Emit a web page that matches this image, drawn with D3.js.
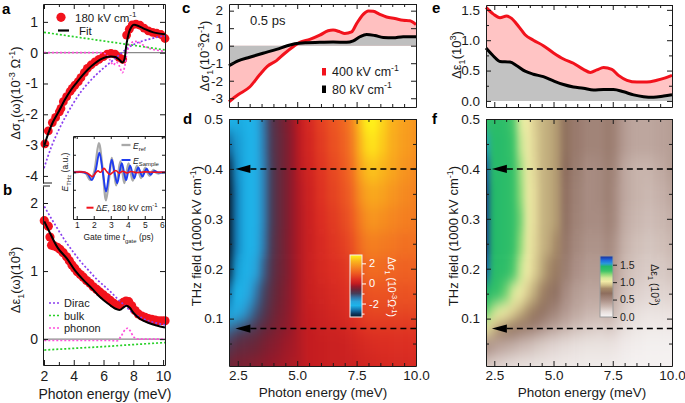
<!DOCTYPE html>
<html><head><meta charset="utf-8">
<script src="https://cdn.jsdelivr.net/npm/d3@7/dist/d3.min.js"></script>
<style>html,body{margin:0;padding:0;background:#fff;}svg{display:block;}</style>
</head><body>
<svg id="fig" width="685" height="403"></svg>
<script>
// ================= DATA =================
const panelA_dots = [[2.06,-2.96],[2.29,-2.54],[2.56,-2.27],[2.78,-2.10],[3.03,-1.92],[3.14,-1.81],[3.30,-1.59],[3.52,-1.43],[3.75,-1.26],[3.90,-1.16],[4.08,-1.05],[4.30,-0.94],[4.48,-0.81],[4.71,-0.65],[4.91,-0.51],[5.16,-0.40],[5.43,-0.30],[5.69,-0.22],[5.99,-0.13],[6.25,-0.05],[6.50,-0.02],[6.77,-0.05],[7.04,-0.15],[7.29,-0.22],[7.55,0.57],[7.73,0.76],[7.93,0.90],[8.18,0.93],[8.45,0.89],[8.72,0.80],[9.01,0.71],[9.30,0.66],[9.57,0.63],[9.86,0.59],[10.13,0.46]];
const panelA_fit = [[2.0,-3.05],[2.3,-2.6],[2.6,-2.25],[3.0,-1.9],[3.4,-1.53],[3.8,-1.22],[4.2,-0.97],[4.6,-0.73],[5.0,-0.52],[5.4,-0.35],[5.8,-0.22],[6.2,-0.14],[6.5,-0.12],[6.8,-0.14],[7.08,-0.24],[7.29,-0.32],[7.4,-0.22],[7.55,0.3],[7.77,0.74],[8.0,0.9],[8.2,0.89],[8.67,0.79],[9.35,0.66],[10.13,0.6]];
const panelA_dirac = [[2.0,-3.75],[2.5,-3.05],[3.0,-2.5],[3.5,-2.03],[4.0,-1.62],[4.5,-1.26],[5.0,-0.97],[5.5,-0.72],[6.0,-0.5],[6.5,-0.3],[7.0,-0.1],[7.5,0.1],[8.0,0.26],[8.5,0.36],[9.0,0.43],[9.5,0.49],[10.13,0.55]];
const panelA_bulk = [[2.0,0.66],[4.0,0.52],[6.0,0.38],[8.0,0.24],[10.13,0.09]];
const panelA_phonon = [[2.0,0],[5.8,0],[6.2,-0.06],[6.45,-0.25],[6.66,-0.4],[6.85,-0.3],[7.05,-0.42],[7.27,-0.65],[7.42,-0.45],[7.58,0.0],[7.8,0.28],[8.1,0.37],[8.4,0.33],[8.8,0.2],[9.2,0.12],[9.6,0.08],[10.13,0.04]];

const panelB_dots = [[2.02,1.74],[2.29,1.66],[2.40,1.50],[2.51,1.38],[2.69,1.37],[2.89,1.35],[3.07,1.32],[3.29,1.27],[3.52,1.21],[3.70,1.15],[3.88,1.09],[4.06,1.04],[4.24,0.99],[4.44,0.95],[4.64,0.91],[4.86,0.86],[5.09,0.82],[5.31,0.77],[5.54,0.73],[5.76,0.69],[5.99,0.65],[6.21,0.61],[6.44,0.57],[6.66,0.53],[6.88,0.50],[7.11,0.50],[7.33,0.54],[7.51,0.56],[7.69,0.55],[7.89,0.49],[8.12,0.42],[8.34,0.37],[8.57,0.34],[8.79,0.32],[9.01,0.30],[9.24,0.29],[9.46,0.28],[9.69,0.27],[9.91,0.27],[10.13,0.27]];
const panelB_fit = [[2.02,1.73],[2.4,1.56],[2.96,1.33],[3.52,1.19],[4.08,1.01],[4.64,0.87],[5.2,0.75],[5.76,0.62],[6.32,0.52],[6.77,0.45],[7.1,0.43],[7.3,0.46],[7.55,0.49],[7.77,0.46],[8.0,0.39],[8.44,0.3],[9.0,0.24],[9.57,0.2],[10.13,0.17]];
const panelB_dirac = [[2.02,1.95],[2.5,1.77],[3.0,1.59],[3.5,1.42],[4.0,1.27],[4.5,1.13],[5.0,1.01],[5.5,0.89],[6.0,0.79],[6.5,0.69],[7.0,0.58],[7.5,0.48],[8.0,0.38],[8.5,0.32],[9.0,0.27],[9.5,0.24],[10.13,0.21]];
const panelB_bulk = [[2.02,-0.16],[4.0,-0.135],[6.0,-0.11],[8.0,-0.08],[10.13,-0.05]];
const panelB_phonon = [[2.02,-0.02],[6.5,-0.02],[6.9,-0.025],[7.2,0.05],[7.45,0.14],[7.6,0.16],[7.8,0.12],[8.0,0.04],[8.3,0.0],[10.13,0.0]];

const inset_ref = [[0.78,0],[1.3,0.02],[1.55,-0.08],[1.78,-0.45],[2.02,0.0],[2.3,1.66],[2.52,0.2],[2.72,-1.6],[2.92,-0.2],[3.06,0.82],[3.2,0.0],[3.32,-0.75],[3.45,0],[3.57,0.62],[3.69,0],[3.8,-0.62],[3.93,0],[4.05,0.5],[4.17,0],[4.29,-0.48],[4.42,0],[4.54,0.36],[4.66,0],[4.78,-0.33],[4.91,0],[5.03,0.26],[5.15,0],[5.28,-0.2],[5.4,0],[5.52,0.13],[5.64,0],[5.78,-0.07],[6.0,0],[6.19,0]];
const inset_sample = [[0.78,0],[1.4,0],[1.65,-0.1],[1.88,-0.45],[2.1,0.05],[2.33,1.12],[2.52,0.1],[2.72,-1.1],[2.9,-0.1],[3.06,0.72],[3.22,0],[3.38,-0.63],[3.52,0],[3.65,0.52],[3.78,0],[3.9,-0.45],[4.02,0],[4.14,0.38],[4.26,0],[4.38,-0.34],[4.5,0],[4.62,0.28],[4.74,0],[4.87,-0.25],[4.99,0],[5.11,0.2],[5.23,0],[5.35,-0.14],[5.47,0],[5.6,0.08],[5.75,0],[6.19,0]];
const inset_diff = [[0.78,0],[1.5,0],[1.7,-0.1],[1.92,-0.25],[2.1,-0.05],[2.25,0.08],[2.4,0.0],[2.6,0.22],[2.78,0.02],[2.95,-0.12],[3.15,0.02],[3.3,0.1],[3.5,-0.05],[3.7,0.06],[3.95,-0.04],[4.2,0.04],[4.5,-0.02],[5.0,0.02],[5.5,0],[6.19,0]];

const panelC_400 = [[2.13,-3.2],[2.51,-2.8],[3.0,-2.36],[3.42,-1.66],[3.73,-1.19],[4.13,-0.85],[4.48,-0.43],[4.83,-0.06],[5.11,0.19],[5.53,0.36],[5.95,0.6],[6.3,0.85],[6.51,0.89],[6.8,0.79],[7.0,0.7],[7.29,0.79],[7.5,1.26],[7.78,1.79],[7.99,1.98],[8.2,1.96],[8.48,1.79],[8.76,1.64],[9.11,1.55],[9.46,1.45],[9.74,1.42],[10.0,1.2]];
const panelC_80 = [[2.13,-1.15],[2.51,-0.87],[3.0,-0.66],[3.56,-0.43],[4.13,-0.21],[4.55,-0.02],[4.9,0.11],[5.39,0.17],[5.95,0.19],[6.51,0.21],[7.08,0.19],[7.36,0.28],[7.64,0.51],[7.92,0.64],[8.27,0.58],[8.62,0.47],[9.04,0.45],[9.46,0.51],[10.0,0.51]];
const panelE_400 = [[2.15,1.54],[2.46,1.43],[2.74,1.37],[3.02,1.40],[3.23,1.36],[3.52,1.23],[3.8,1.09],[4.15,1.0],[4.57,0.91],[5.0,0.79],[5.42,0.69],[5.84,0.62],[6.26,0.52],[6.55,0.47],[6.83,0.51],[7.11,0.55],[7.46,0.52],[7.74,0.42],[8.1,0.34],[8.52,0.31],[8.94,0.31],[9.36,0.34],[9.72,0.38],[10.0,0.42]];
const panelE_80 = [[2.15,0.87],[2.46,0.74],[2.74,0.65],[3.16,0.64],[3.45,0.58],[3.8,0.49],[4.15,0.44],[4.57,0.40],[5.0,0.33],[5.42,0.27],[5.84,0.23],[6.26,0.21],[6.69,0.18],[7.11,0.19],[7.53,0.19],[7.96,0.15],[8.38,0.10],[8.8,0.07],[9.22,0.06],[9.65,0.08],[10.0,0.10]];

// heat maps: rows follow mapField (bottom to top), columns follow mapEnergy
const mapEnergy = [2.13,2.4,2.7,3.0,3.3,3.6,3.9,4.2,4.5,4.8,5.1,5.5,6.0,6.5,7.0,7.3,7.6,7.9,8.2,8.6,9.0,9.5,10.0];
const mapField = [0.005,0.05,0.08,0.1,0.12,0.15,0.2,0.25,0.3,0.35,0.4,0.45,0.5];
const mapSigma = [
 [-0.6,-0.5,-0.5,-0.45,-0.4,-0.35,-0.3,-0.25,-0.2,-0.15,-0.1,0.0,0.05,0.1,0.1,0.12,0.18,0.22,0.25,0.28,0.3,0.3,0.3],
 [-0.9,-0.75,-0.7,-0.65,-0.6,-0.5,-0.42,-0.35,-0.25,-0.2,-0.1,0.0,0.05,0.1,0.12,0.18,0.25,0.3,0.35,0.38,0.4,0.4,0.4],
 [-1.3,-1.1,-1.0,-0.9,-0.8,-0.65,-0.55,-0.45,-0.35,-0.25,-0.1,0.0,0.1,0.15,0.2,0.28,0.38,0.45,0.5,0.5,0.5,0.5,0.5],
 [-2.0,-1.8,-1.6,-1.3,-1.05,-0.85,-0.65,-0.5,-0.4,-0.25,-0.1,0.0,0.1,0.2,0.28,0.38,0.5,0.6,0.65,0.65,0.65,0.65,0.65],
 [-2.4,-2.0,-1.85,-1.55,-1.2,-0.95,-0.7,-0.55,-0.42,-0.27,-0.1,0.05,0.15,0.25,0.33,0.43,0.6,0.72,0.78,0.78,0.78,0.78,0.78],
 [-2.7,-2.2,-2.1,-1.8,-1.4,-1.05,-0.78,-0.6,-0.45,-0.28,-0.1,0.08,0.2,0.3,0.4,0.5,0.72,0.88,0.92,0.92,0.9,0.9,0.9],
 [-3.2,-2.4,-2.25,-2.1,-1.75,-1.25,-0.88,-0.65,-0.5,-0.3,-0.1,0.1,0.28,0.4,0.5,0.65,0.95,1.2,1.25,1.2,1.15,1.1,1.1],
 [-3.34,-2.6,-2.3,-2.2,-1.95,-1.45,-0.95,-0.7,-0.5,-0.3,-0.1,0.1,0.32,0.5,0.65,0.85,1.2,1.45,1.5,1.45,1.4,1.3,1.3],
 [-3.34,-2.6,-2.3,-2.2,-2.0,-1.5,-1.0,-0.72,-0.52,-0.3,-0.1,0.12,0.38,0.58,0.78,1.0,1.4,1.7,1.8,1.7,1.6,1.5,1.45],
 [-3.34,-2.6,-2.3,-2.2,-2.0,-1.5,-1.0,-0.72,-0.52,-0.3,-0.08,0.15,0.45,0.68,0.9,1.15,1.65,1.95,2.05,1.95,1.8,1.65,1.55],
 [-3.2,-2.5,-2.3,-2.2,-2.0,-1.5,-1.0,-0.72,-0.52,-0.3,-0.05,0.2,0.5,0.75,1.0,1.3,1.9,2.25,2.35,2.2,2.0,1.8,1.65],
 [-2.7,-2.4,-2.3,-2.2,-2.0,-1.45,-0.95,-0.72,-0.52,-0.3,-0.03,0.25,0.58,0.85,1.1,1.45,2.1,2.55,2.65,2.4,2.1,1.9,1.75],
 [-2.2,-2.25,-2.25,-2.2,-2.0,-1.4,-0.92,-0.7,-0.5,-0.28,0.0,0.3,0.65,0.92,1.18,1.55,2.25,2.75,2.8,2.5,2.15,1.95,1.8]
];
const mapEps = [
 [0.25,0.22,0.2,0.18,0.16,0.15,0.14,0.13,0.12,0.11,0.1,0.09,0.08,0.07,0.07,0.07,0.06,0.05,0.04,0.03,0.03,0.03,0.03],
 [0.5,0.45,0.4,0.37,0.34,0.3,0.28,0.25,0.22,0.2,0.18,0.16,0.14,0.12,0.12,0.12,0.11,0.08,0.06,0.05,0.04,0.04,0.04],
 [1.0,0.9,0.8,0.72,0.66,0.6,0.55,0.5,0.45,0.4,0.35,0.3,0.25,0.22,0.2,0.22,0.2,0.15,0.12,0.09,0.07,0.07,0.08],
 [1.18,1.05,1.0,0.95,0.88,0.82,0.75,0.68,0.6,0.52,0.47,0.4,0.33,0.28,0.27,0.3,0.25,0.19,0.15,0.12,0.1,0.1,0.11],
 [1.32,1.2,1.1,1.04,0.98,0.92,0.85,0.78,0.7,0.62,0.55,0.45,0.38,0.33,0.32,0.35,0.3,0.22,0.18,0.15,0.13,0.14,0.15],
 [1.45,1.38,1.33,1.25,1.12,1.04,0.95,0.88,0.8,0.72,0.65,0.5,0.42,0.38,0.38,0.42,0.36,0.28,0.23,0.2,0.18,0.19,0.2],
 [1.68,1.43,1.4,1.38,1.3,1.15,1.03,0.95,0.88,0.82,0.75,0.58,0.48,0.43,0.43,0.48,0.42,0.32,0.27,0.24,0.22,0.23,0.26],
 [1.75,1.45,1.42,1.4,1.35,1.22,1.05,0.97,0.9,0.87,0.82,0.62,0.52,0.47,0.47,0.52,0.46,0.35,0.3,0.27,0.25,0.27,0.3],
 [1.75,1.45,1.42,1.4,1.36,1.25,1.06,0.98,0.9,0.88,0.85,0.65,0.55,0.5,0.5,0.56,0.5,0.38,0.33,0.3,0.28,0.3,0.34],
 [1.75,1.45,1.42,1.4,1.35,1.22,1.05,0.98,0.9,0.88,0.85,0.66,0.56,0.5,0.52,0.58,0.5,0.4,0.35,0.32,0.3,0.33,0.38],
 [1.7,1.42,1.42,1.4,1.35,1.2,1.05,0.97,0.9,0.88,0.85,0.68,0.58,0.5,0.52,0.58,0.52,0.4,0.35,0.32,0.32,0.36,0.42],
 [1.52,1.42,1.42,1.4,1.32,1.15,1.04,0.96,0.9,0.88,0.85,0.7,0.6,0.55,0.55,0.6,0.55,0.45,0.4,0.38,0.38,0.4,0.42],
 [1.35,1.4,1.4,1.38,1.3,1.1,1.02,0.95,0.9,0.88,0.85,0.7,0.6,0.55,0.55,0.6,0.55,0.45,0.4,0.38,0.38,0.4,0.42]
];
const arrowFields = [0.4, 0.08];

const abXTicks = [2,4,6,8,10], abXMinor = [3,5,7,9];
const aYTicks = [-4,-3,-2,-1,0,1], bYTicks = [0,1,2];
const insetXTicks = [1,2,3,4,5,6], insetYTicks = [-2,-1,0,1,2];
const mapXTicks = [2.5,5.0,7.5,10.0];
const mapXMinor = [3,3.5,4,4.5,5.5,6,6.5,7,8,8.5,9,9.5];
const cYTicks = [-3,-2,-1,0,1,2];
const eYTicks = [0,0.5,1.0,1.5], eYMinor = [0.25,0.75,1.25];
const fieldTicks = [0.1,0.2,0.3,0.4,0.5], fieldMinor = [0.05,0.15,0.25,0.35,0.45];
const cbSigmaTicks = [-2,0,2], cbSigmaMinor = [-3,-1,1];
const cbEpsTicks = [0,0.5,1.0,1.5];

// ================= DRAWING =================
const FONT = '"Liberation Sans", Arial, Helvetica, sans-serif';
const INK = '#1a1a1a', RED = '#f2121c';
const svg = d3.select('#fig').attr('font-family', FONT);
svg.append('rect').attr('width',685).attr('height',403).attr('fill','#fff');
const defs = svg.append('defs');

function seg(g,x1,y1,x2,y2,c,w,dash){
  const l=g.append('line').attr('x1',x1).attr('y1',y1).attr('x2',x2).attr('y2',y2)
    .attr('stroke',c||INK).attr('stroke-width',w||1);
  if(dash) l.attr('stroke-dasharray',dash);
  return l;
}
function rich(g,x,y,parts,size,o){
  o=o||{};
  const t=g.append('text').attr('font-size',size).attr('fill',o.fill||INK).attr('text-anchor',o.anchor||'start');
  if(o.rot!==undefined) t.attr('transform',`translate(${x},${y}) rotate(${o.rot})`);
  else t.attr('x',x).attr('y',y);
  let cur=0;
  parts.forEach(p=>{
    if(typeof p==='string') p={t:p};
    let off=0, fs=null;
    if(p.s==='sub'){off=size*0.3; fs=size*0.7;}
    else if(p.s==='sup'){off=-size*0.42; fs=size*0.7;}
    const ts=t.append('tspan').text(p.t);
    if(off!==cur) ts.attr('dy',off-cur);
    if(fs) ts.attr('font-size',fs);
    if(p.i) ts.attr('font-style','italic');
    cur=off;
  });
  return t;
}
function axis(g,gen,tx,ty,fs,col){
  const a=g.append('g').attr('transform',`translate(${tx},${ty})`).call(gen);
  a.attr('font-family',FONT).attr('font-size',fs||13.5);
  a.select('.domain').attr('stroke',col||INK).attr('stroke-width',1);
  a.selectAll('.tick line').attr('stroke',col||INK);
  a.selectAll('.tick text').attr('fill',col||INK);
  return a;
}
function minor(g,gen,tx,ty,col){
  const a=axis(g,gen.tickFormat(''),tx,ty,10,col);
  a.select('.domain').remove();
  return a;
}
const none=()=> '';
const f1=d3.format('.1f');

// ---------- Panels a & b ----------
const xAB = d3.scaleLinear().domain([1.933,10.13]).range([43,165]);
const yA = d3.scaleLinear().domain([-4.23,1.58]).range([183,4]);
const yB = d3.scaleLinear().domain([-0.38,2.25]).range([365,186]);
const gA = svg.append('g'), gB = svg.append('g');

seg(gA,43,yA(0),165,yA(0),'#8a8a8a',1.3);
seg(gB,43,yB(0),165,yB(0),'#8a8a8a',1.3);

function dotted(g,x,y,data,color){
  g.append('path').datum(data).attr('fill','none').attr('stroke',color).attr('stroke-width',1.7)
   .attr('stroke-dasharray','2,2')
   .attr('d',d3.line().x(d=>x(d[0])).y(d=>y(d[1])).curve(d3.curveMonotoneX));
}
const PURPLE='#8a3ff0', GREEN='#28d028', PINK='#ff4fdc';
gA.selectAll('circle.pt').data(panelA_dots).join('circle').attr('class','pt')
  .attr('cx',d=>xAB(d[0])).attr('cy',d=>yA(d[1])).attr('r',4.4).attr('fill',RED);
gB.selectAll('circle.pt').data(panelB_dots).join('circle').attr('class','pt')
  .attr('cx',d=>xAB(d[0])).attr('cy',d=>yB(d[1])).attr('r',4.6).attr('fill',RED);
dotted(gA,xAB,yA,panelA_bulk,GREEN);
dotted(gA,xAB,yA,panelA_dirac,PURPLE);
dotted(gA,xAB,yA,panelA_phonon,PINK);
dotted(gB,xAB,yB,panelB_bulk,GREEN);
dotted(gB,xAB,yB,panelB_dirac,PURPLE);
dotted(gB,xAB,yB,panelB_phonon,PINK);
const fitLine=(y)=>d3.line().x(d=>xAB(d[0])).y(d=>y(d[1])).curve(d3.curveCatmullRom.alpha(0.5));
gA.append('path').datum(panelA_fit).attr('fill','none').attr('stroke','#000').attr('stroke-width',2).attr('d',fitLine(yA));
gB.append('path').datum(panelB_fit).attr('fill','none').attr('stroke','#000').attr('stroke-width',2).attr('d',fitLine(yB));

axis(gA,d3.axisLeft(yA).tickValues(aYTicks).tickSize(-5).tickPadding(5).tickSizeOuter(0).tickFormat(d=>String(d)),43,0,14);
axis(gA,d3.axisRight(yA).tickValues(aYTicks).tickSize(-5).tickSizeOuter(0).tickFormat(none),165,0);
axis(gA,d3.axisTop(xAB).tickValues(abXTicks).tickSize(-5).tickSizeOuter(0).tickFormat(none),0,4);
minor(gA,d3.axisTop(xAB).tickValues(abXMinor).tickSize(-3),0,4);
seg(gA,43,183,52,183);
axis(gB,d3.axisLeft(yB).tickValues(bYTicks).tickSize(-5).tickPadding(5).tickSizeOuter(0).tickFormat(d=>String(d)),43,0,14);
axis(gB,d3.axisRight(yB).tickValues(bYTicks).tickSize(-5).tickSizeOuter(0).tickFormat(none),165,0);
axis(gB,d3.axisBottom(xAB).tickValues(abXTicks).tickSize(-5).tickPadding(6).tickSizeOuter(0).tickFormat(d=>String(d)),0,365,14);
minor(gB,d3.axisBottom(xAB).tickValues(abXMinor).tickSize(-3),0,365);
seg(gB,43,186,50,186);
seg(gB,165,183,165,186);

rich(svg,20,93,['Δσ',{t:'1',s:'sub'},'(ω)(10',{t:'-3',s:'sup'},' Ω',{t:'-1',s:'sup'},')'],13,{rot:-90,anchor:'middle'});
rich(svg,20,280,['Δε',{t:'1',s:'sub'},'(ω)(10',{t:'3',s:'sup'},')'],13,{rot:-90,anchor:'middle'});
rich(svg,105,399,['Photon energy (meV)'],14,{anchor:'middle'});
svg.append('circle').attr('cx',61).attr('cy',17.3).attr('r',4.6).attr('fill',RED);
rich(svg,75,21.5,['180 kV cm',{t:'-1',s:'sup'}],11.5);
seg(svg,58,30.5,69,30.5,'#000',2.2);
rich(svg,79,35,['Fit'],11.5);
[['Dirac',PURPLE,303],['bulk',GREEN,315.5],['phonon',PINK,328]].forEach(([t,c,y])=>{
  seg(svg,49,y,61,y,c,1.7,'2,2');
  rich(svg,64,y+4,[t],11);
});

// ---------- Inset ----------
const xIn = d3.scaleLinear().domain([0.78,6.19]).range([73,165]);
const yIn = d3.scaleLinear().domain([-2.67,2.07]).range([219,136]);
const gIn = svg.append('g');
gIn.append('rect').attr('x',73).attr('y',136).attr('width',92).attr('height',83).attr('fill','#fff');
const inLine=d3.line().x(d=>xIn(d[0])).y(d=>yIn(d[1])).curve(d3.curveCatmullRom.alpha(0.5));
gIn.append('path').datum(inset_ref).attr('fill','none').attr('stroke','#a9a9a9').attr('stroke-width',2.3).attr('d',inLine);
gIn.append('path').datum(inset_sample).attr('fill','none').attr('stroke','#1f3cf0').attr('stroke-width',1.9).attr('d',inLine);
gIn.append('path').datum(inset_diff).attr('fill','none').attr('stroke',RED).attr('stroke-width',1.6).attr('d',inLine);
axis(gIn,d3.axisBottom(xIn).tickValues(insetXTicks).tickSize(-3).tickPadding(3).tickSizeOuter(0).tickFormat(d=>String(d)),0,219,8.5);
axis(gIn,d3.axisTop(xIn).tickValues(insetXTicks).tickSize(-3).tickSizeOuter(0).tickFormat(none),0,136);
axis(gIn,d3.axisLeft(yIn).tickValues(insetYTicks).tickSize(-3).tickSizeOuter(0).tickFormat(none),73,0);
axis(gIn,d3.axisRight(yIn).tickValues(insetYTicks).tickSize(-3).tickSizeOuter(0).tickFormat(none),165,0);
rich(gIn,118.5,240,['Gate time ',{t:'t',i:1},{t:'gate',s:'sub'},' (ps)'],8.5,{anchor:'middle'});
rich(gIn,68,172,[{t:'E',i:1},{t:'THz',s:'sub'},' (a.u.)'],8.5,{rot:-90,anchor:'middle'});
seg(gIn,121.5,145,130.5,145,'#a9a9a9',2.3);
rich(gIn,133,148.5,[{t:'E',i:1},{t:'ref',s:'sub'}],8.5);
seg(gIn,121.5,160,130.5,160,'#1f3cf0',2);
rich(gIn,133,163.5,[{t:'E',i:1},{t:'Sample',s:'sub'}],8.5);
seg(gIn,86.5,207.7,93.5,207.7,RED,2);
rich(gIn,96,211,['Δ',{t:'E',i:1},', 180 kV cm',{t:'-1',s:'sup'}],8.5);

// ---------- Panel c ----------
const xCD = d3.scaleLinear().domain([2.13,10]).range([229,416]);
const yC = d3.scaleLinear().domain([-3.5,2.38]).range([107,4]);
const gC = svg.append('g');
const areaC=(data)=>d3.area().x(d=>xCD(d[0])).y0(yC(0)).y1(d=>yC(d[1])).curve(d3.curveMonotoneX)(data);
gC.append('path').attr('d',areaC(panelC_400)).attr('fill','#ffc0c0');
gC.append('path').attr('d',areaC(panelC_80)).attr('fill','#bfbfbf');
const lineC=d3.line().x(d=>xCD(d[0])).y(d=>yC(d[1])).curve(d3.curveMonotoneX);
gC.append('path').datum(panelC_400).attr('fill','none').attr('stroke',RED).attr('stroke-width',3).attr('d',lineC);
gC.append('path').datum(panelC_80).attr('fill','none').attr('stroke','#000').attr('stroke-width',3).attr('d',lineC);
axis(gC,d3.axisLeft(yC).tickValues(cYTicks).tickSize(-5).tickPadding(6).tickSizeOuter(0).tickFormat(d=>String(d)),229,0);
axis(gC,d3.axisRight(yC).tickValues(cYTicks).tickSize(-5).tickSizeOuter(0).tickFormat(none),416,0);
axis(gC,d3.axisBottom(xCD).tickValues(mapXTicks).tickSize(-5).tickSizeOuter(0).tickFormat(none),0,107);
minor(gC,d3.axisBottom(xCD).tickValues(mapXMinor).tickSize(-3),0,107);
axis(gC,d3.axisTop(xCD).tickValues(mapXTicks).tickSize(-5).tickSizeOuter(0).tickFormat(none),0,4);
minor(gC,d3.axisTop(xCD).tickValues(mapXMinor).tickSize(-3),0,4);
rich(svg,250,25,['0.5 ps'],13);
svg.append('rect').attr('x',322).attr('y',68).attr('width',4).attr('height',7.5).attr('fill',RED);
rich(svg,332,76,['400 kV cm',{t:'-1',s:'sup'}],12.5);
svg.append('rect').attr('x',322).attr('y',85.5).attr('width',4).attr('height',7.5).attr('fill','#000');
rich(svg,332,93.5,['80 kV cm',{t:'-1',s:'sup'}],12.5);
rich(svg,209,56,['Δσ',{t:'1',s:'sub'},'(10',{t:'-3',s:'sup'},'Ω',{t:'-1',s:'sup'},')'],13,{rot:-90,anchor:'middle'});

// ---------- Panel e ----------
const xEF = d3.scaleLinear().domain([2.15,10]).range([486,672]);
const yE = d3.scaleLinear().domain([-0.1,1.58]).range([107,5]);
const gE = svg.append('g');
const areaE=(data)=>d3.area().x(d=>xEF(d[0])).y0(yE(0)).y1(d=>yE(d[1])).curve(d3.curveMonotoneX)(data);
gE.append('path').attr('d',areaE(panelE_400)).attr('fill','#ffc4c4');
gE.append('path').attr('d',areaE(panelE_80)).attr('fill','#c2c2c2');
const lineE=d3.line().x(d=>xEF(d[0])).y(d=>yE(d[1])).curve(d3.curveMonotoneX);
gE.append('path').datum(panelE_400).attr('fill','none').attr('stroke',RED).attr('stroke-width',3).attr('d',lineE);
gE.append('path').datum(panelE_80).attr('fill','none').attr('stroke','#000').attr('stroke-width',3).attr('d',lineE);
axis(gE,d3.axisLeft(yE).tickValues(eYTicks).tickSize(-5).tickPadding(6).tickSizeOuter(0).tickFormat(f1),486,0);
minor(gE,d3.axisLeft(yE).tickValues(eYMinor).tickSize(-3),486,0);
axis(gE,d3.axisRight(yE).tickValues(eYTicks).tickSize(-5).tickSizeOuter(0).tickFormat(none),672,0);
minor(gE,d3.axisRight(yE).tickValues(eYMinor).tickSize(-3),672,0);
axis(gE,d3.axisBottom(xEF).tickValues(mapXTicks).tickSize(-5).tickSizeOuter(0).tickFormat(none),0,107);
minor(gE,d3.axisBottom(xEF).tickValues(mapXMinor).tickSize(-3),0,107);
axis(gE,d3.axisTop(xEF).tickValues(mapXTicks).tickSize(-5).tickSizeOuter(0).tickFormat(none),0,5);
minor(gE,d3.axisTop(xEF).tickValues(mapXMinor).tickSize(-3),0,5);
rich(svg,461,55,['Δε',{t:'1',s:'sub'},'(10',{t:'3',s:'sup'},')'],13,{rot:-90,anchor:'middle'});

// ---------- Heat maps ----------
const sigStops=[[-3.34,'#07182a'],[-3.0,'#0c3a62'],[-2.6,'#1478b2'],[-2.2,'#1db4ea'],[-1.8,'#27a4dc'],[-1.4,'#3474a6'],[-1.0,'#463e5a'],[-0.6,'#6c2436'],[-0.3,'#95192a'],[0,'#c41c20'],[0.4,'#dc2e22'],[1.0,'#ee5a22'],[1.6,'#f58620'],[2.2,'#fab41c'],[2.83,'#fff51a']];
const epsStops=[[0,'#f8f6f6'],[0.15,'#e7dedb'],[0.3,'#cbb8b1'],[0.5,'#a88c82'],[0.68,'#8e6e5e'],[0.82,'#a68a68'],[0.92,'#d2c28a'],[1.02,'#f1eba6'],[1.12,'#d6e89a'],[1.22,'#8ed878'],[1.32,'#3cc468'],[1.45,'#22b86a'],[1.53,'#2a9ad8'],[1.62,'#1f6ee0'],[1.75,'#1a2a98']];
const cmSig=d3.scaleLinear().domain(sigStops.map(d=>d[0])).range(sigStops.map(d=>d[1])).clamp(true);
const cmEps=d3.scaleLinear().domain(epsStops.map(d=>d[0])).range(epsStops.map(d=>d[1])).clamp(true);

function heat(g,id,x,y,E,F,Z,cmap){
  const [X0,X1]=x.range(), [Yb,Yt]=y.range();
  defs.append('clipPath').attr('id','clip'+id).append('rect').attr('x',X0).attr('y',Yt).attr('width',X1-X0).attr('height',Yb-Yt);
  const fl=defs.append('filter').attr('id','blur'+id).attr('filterUnits','userSpaceOnUse')
    .attr('x',X0-50).attr('y',Yt-50).attr('width',X1-X0+100).attr('height',Yb-Yt+100)
    .attr('color-interpolation-filters','sRGB');
  fl.append('feGaussianBlur').attr('stdDeviation','3 7');
  const inner=g.append('g').attr('clip-path',`url(#clip${id})`).append('g').attr('filter',`url(#blur${id})`);
  const xe=E.map(x), ye=F.map(y);
  const xb=i=> i<0? X0-45 : (i>=E.length-1? X1+45 : (xe[i]+xe[i+1])/2);
  const yb=j=> j<0? Yb+45 : (j>=F.length-1? Yt-45 : (ye[j]+ye[j+1])/2);
  const cells=[];
  F.forEach((f,j)=>E.forEach((e,i)=>cells.push({i,j,v:Z[j][i]})));
  inner.selectAll('rect').data(cells).join('rect')
    .attr('x',d=>xb(d.i-1)).attr('width',d=>xb(d.i)-xb(d.i-1)+0.6)
    .attr('y',d=>yb(d.j)).attr('height',d=>yb(d.j-1)-yb(d.j)+0.6)
    .attr('fill',d=>cmap(d.v));
}
function colorbar(g,id,x0,w,scale,stops,border){
  const [yb,yt]=scale.range(); const [lo,hi]=scale.domain();
  const gr=defs.append('linearGradient').attr('id','cb'+id).attr('x1',0).attr('y1',1).attr('x2',0).attr('y2',0);
  stops.forEach(s=>gr.append('stop').attr('offset',(s[0]-lo)/(hi-lo)).attr('stop-color',s[1]));
  g.append('rect').attr('x',x0).attr('y',yt).attr('width',w).attr('height',yb-yt).attr('fill',`url(#cb${id})`).attr('stroke',border).attr('stroke-width',1);
}
function arrows(g,x,y){
  const [X0,X1]=x.range();
  arrowFields.forEach(f=>{
    const yy=y(f), tip=x(2.4), base=x(3.03);
    g.append('path').attr('d',`M${tip},${yy}L${base},${yy-4.2}L${base},${yy+4.2}Z`).attr('fill','#000');
    seg(g,base,yy,X1,yy,'#000',1.5,'6,4');
  });
}

// Panel d
const yDF = d3.scaleLinear().domain([0.005,0.5]).range([366,119]);
const gD = svg.append('g');
heat(gD,'d',xCD,yDF,mapEnergy,mapField,mapSigma,cmSig);
arrows(gD,xCD,yDF);
axis(gD,d3.axisLeft(yDF).tickValues(fieldTicks).tickSize(-5).tickPadding(6).tickSizeOuter(0).tickFormat(f1),229,0);
minor(gD,d3.axisLeft(yDF).tickValues(fieldMinor).tickSize(-3),229,0);
axis(gD,d3.axisRight(yDF).tickValues(fieldTicks).tickSize(-5).tickSizeOuter(0).tickFormat(none),416,0);
minor(gD,d3.axisRight(yDF).tickValues(fieldMinor).tickSize(-3),416,0);
axis(gD,d3.axisBottom(xCD).tickValues(mapXTicks).tickSize(-5).tickPadding(4).tickSizeOuter(0).tickFormat(f1),0,366);
minor(gD,d3.axisBottom(xCD).tickValues(mapXMinor).tickSize(-3),0,366);
axis(gD,d3.axisTop(xCD).tickValues(mapXTicks).tickSize(-5).tickSizeOuter(0).tickFormat(none),0,119);
minor(gD,d3.axisTop(xCD).tickValues(mapXMinor).tickSize(-3),0,119);
const cbS = d3.scaleLinear().domain([-3.34,2.83]).range([317,255]);
colorbar(gD,'d',350,12,cbS,sigStops,'#f2f2f2');
axis(gD,d3.axisRight(cbS).tickValues(cbSigmaTicks).tickSize(4).tickPadding(3).tickSizeOuter(0).tickFormat(d=>String(d)),362,0,11,'#ffffff').select('.domain').remove();
minor(gD,d3.axisRight(cbS).tickValues(cbSigmaMinor).tickSize(2.5),362,0,'#ffffff');
rich(gD,388,287,['Δσ',{t:'1',s:'sub'},' (10',{t:'-3',s:'sup'},'Ω',{t:'-1',s:'sup'},')'],10.5,{rot:90,anchor:'middle',fill:'#ffffff'});
rich(svg,201,236,['THz field (1000 kV cm',{t:'-1',s:'sup'},')'],13,{rot:-90,anchor:'middle'});
rich(svg,323,397,['Photon energy (meV)'],13.5,{anchor:'middle'});

// Panel f
const gF = svg.append('g');
heat(gF,'f',xEF,yDF,mapEnergy,mapField,mapEps,cmEps);
arrows(gF,xEF,yDF);
axis(gF,d3.axisLeft(yDF).tickValues(fieldTicks).tickSize(-5).tickPadding(6).tickSizeOuter(0).tickFormat(f1),486,0);
minor(gF,d3.axisLeft(yDF).tickValues(fieldMinor).tickSize(-3),486,0);
axis(gF,d3.axisRight(yDF).tickValues(fieldTicks).tickSize(-5).tickSizeOuter(0).tickFormat(none),672,0);
minor(gF,d3.axisRight(yDF).tickValues(fieldMinor).tickSize(-3),672,0);
axis(gF,d3.axisBottom(xEF).tickValues(mapXTicks).tickSize(-5).tickPadding(4).tickSizeOuter(0).tickFormat(f1),0,366);
minor(gF,d3.axisBottom(xEF).tickValues(mapXMinor).tickSize(-3),0,366);
axis(gF,d3.axisTop(xEF).tickValues(mapXTicks).tickSize(-5).tickSizeOuter(0).tickFormat(none),0,119);
minor(gF,d3.axisTop(xEF).tickValues(mapXMinor).tickSize(-3),0,119);
const cbE = d3.scaleLinear().domain([0,1.75]).range([317,256]);
colorbar(gF,'f',600,13,cbE,epsStops,'#9a9a9a');
axis(gF,d3.axisRight(cbE).tickValues(cbEpsTicks).tickSize(4).tickPadding(3).tickSizeOuter(0).tickFormat(f1),613,0,10.5,'#222').select('.domain').remove();
rich(gF,651,285,['Δε',{t:'1',s:'sub'},' (10',{t:'3',s:'sup'},')'],10.5,{rot:90,anchor:'middle'});
rich(svg,458,236,['THz field (1000 kV cm',{t:'-1',s:'sup'},')'],13,{rot:-90,anchor:'middle'});
rich(svg,582,397,['Photon energy (meV)'],13.5,{anchor:'middle'});

[['a',2,14],['b',3,195],['c',182,13],['d',183,124],['e',432,13],['f',432,124]].forEach(([t,x,y])=>{
  svg.append('text').attr('x',x).attr('y',y).attr('font-size',15).attr('font-weight','bold').attr('fill','#000').text(t);
});
</script>
</body></html>
